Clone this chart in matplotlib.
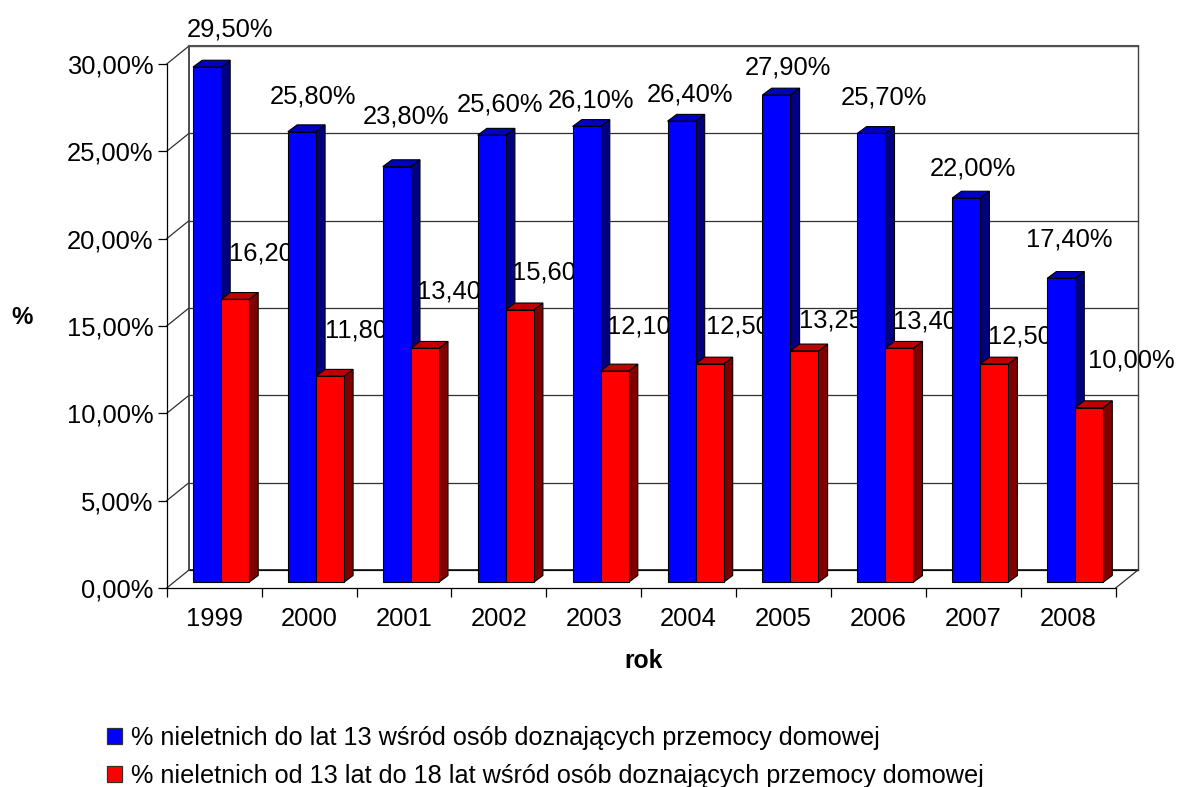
"""3D-looking clustered columns, 1999-2008, drawn on a flat axes with fake depth."""
import matplotlib
matplotlib.use("Agg")
import matplotlib.pyplot as plt
from matplotlib.patches import Patch

plt.rcParams["font.family"] = ["Liberation Sans", "DejaVu Sans"]

YEARS = ["1999", "2000", "2001", "2002", "2003", "2004", "2005", "2006", "2007", "2008"]
UNDER_13 = [29.5, 25.8, 23.8, 25.6, 26.1, 26.4, 27.9, 25.7, 22.0, 17.4]
FROM_13_TO_18 = [16.2, 11.8, 13.4, 15.6, 12.1, 12.5, 13.25, 13.4, 12.5, 10.0]
LABELS_13 = ["29,50%", "25,80%", "23,80%", "25,60%", "26,10%", "26,40%", "27,90%", "25,70%", "22,00%", "17,40%"]
LABELS_18 = ["16,20%", "11,80%", "13,40%", "15,60%", "12,10%", "12,50%", "13,25%", "13,40%", "12,50%", "10,00%"]
LEGEND = [
    "% nieletnich do lat 13 wśród osób doznających przemocy domowej",
    "% nieletnich od 13 lat do 18 lat wśród osób doznających przemocy domowej",
]

# label offsets in pixels from the bar's top left corner (they were moved by hand in the original)
OFFSET_13 = [(37, 38), (25, 35), (23, 50), (22, 31), (18, 26), (22, 27), (26, 27), (27, 36), (21, 30), (22, 39)]
OFFSET_18 = [(51, 46), (51, 46), (50, 57), (50, 37), (50, 44), (54, 37), (52, 30), (51, 27), (51, 27), (56, 47)]

W, H = 1179, 787
FONT = 18.4
PX_X = 94.9          # pixels per category
PX_Y = 524 / 30      # pixels per percent

# depth of the chart box and of the columns, in data units
DEPTH_X, DEPTH_Y = 22.3 / PX_X, 18 / PX_Y
BAR_DX, BAR_DY = 9.2 / PX_X, 6.8 / PX_Y
SHIFT_X, SHIFT_Y = 7 / PX_X, 5.7 / PX_Y
GAP = 19.3 / PX_X
BAR_W = 28 / PX_X

fig = plt.figure(figsize=(W / 100, H / 100), dpi=100, facecolor="white")
ax = fig.add_axes([166.7 / W, (H - 588) / H, 949 / W, 524 / H])
ax.set_xlim(0, 10)
ax.set_ylim(0, 30)
ax.patch.set_visible(False)
for side in ("top", "right"):
    ax.spines[side].set_visible(False)
for side in ("left", "bottom"):
    ax.spines[side].set_linewidth(0.9)

ax.set_xticks(range(11))
ax.set_xticklabels([])
ax.set_xticks([i + 0.5 for i in range(10)], YEARS, minor=True)
ax.tick_params(axis="x", which="major", length=6.5, width=0.9)
ax.tick_params(axis="x", which="minor", length=0, labelsize=FONT, pad=13.8)
ax.set_yticks(range(0, 31, 5))
ax.set_yticklabels([f"{v},00%" for v in range(0, 31, 5)])
ax.tick_params(axis="y", length=6.5, width=0.9, labelsize=FONT, pad=3.2)

# walls and floor
wall = dict(color="#303030", linewidth=0.9, clip_on=False, zorder=1)
for v in range(0, 31, 5):
    ax.plot([DEPTH_X, 10 + DEPTH_X], [v + DEPTH_Y] * 2, **wall)
    ax.plot([0, DEPTH_X], [v, v + DEPTH_Y], **wall)
ax.plot([DEPTH_X, 10 + DEPTH_X], [DEPTH_Y, DEPTH_Y], color="black", linewidth=1.1, clip_on=False, zorder=1)
ax.plot([DEPTH_X, DEPTH_X], [DEPTH_Y, 30 + DEPTH_Y], color="#404040", linewidth=1.3, clip_on=False, zorder=1)
ax.plot([10 + DEPTH_X] * 2, [DEPTH_Y, 30 + DEPTH_Y], color="#404040", linewidth=1.0, clip_on=False, zorder=1)
ax.plot([DEPTH_X, 10 + DEPTH_X], [30 + DEPTH_Y] * 2, color="#505050", linewidth=1.5, clip_on=False, zorder=1)
ax.plot([10, 10 + DEPTH_X], [0, DEPTH_Y], **wall)


def draw_column(x, value, front, top, side, z):
    y0, y1 = SHIFT_Y, SHIFT_Y + value
    edge = dict(edgecolor="black", linewidth=0.8, clip_on=False, zorder=z)
    ax.fill([x + BAR_W, x + BAR_W + BAR_DX, x + BAR_W + BAR_DX, x + BAR_W],
            [y0, y0 + BAR_DY, y1 + BAR_DY, y1], facecolor=side, **edge)
    ax.fill([x, x + BAR_DX, x + BAR_W + BAR_DX, x + BAR_W],
            [y1, y1 + BAR_DY, y1 + BAR_DY, y1], facecolor=top, **edge)
    ax.bar(x, value, BAR_W, bottom=y0, align="edge", color=front, **edge)


# back to front: each year's labels sit under the next year's columns
for i, year in enumerate(YEARS):
    z = 10 + i
    x = i + GAP + SHIFT_X
    draw_column(x, UNDER_13[i], "#0000FF", "#0000C0", "#000080", z)
    draw_column(x + BAR_W, FROM_13_TO_18[i], "#FF0000", "#C00000", "#800000", z)
    for bx, val, text, off in ((x, UNDER_13[i], LABELS_13[i], OFFSET_13[i]),
                               (x + BAR_W, FROM_13_TO_18[i], LABELS_18[i], OFFSET_18[i])):
        ax.annotate(text, (bx, val + SHIFT_Y), xytext=off, textcoords="offset pixels",
                    ha="center", va="center", fontsize=FONT, color="black",
                    annotation_clip=False, zorder=z)

fig.text(22.5 / W, 1 - 317 / H, "%", fontsize=17.3, fontweight="bold", ha="center", va="center")
fig.text(643.5 / W, 1 - 661 / H, "rok", fontsize=17.8, fontweight="bold", ha="center", va="center")

handles = [Patch(facecolor="#0000FF", edgecolor="#303030", linewidth=0.9),
           Patch(facecolor="#FF0000", edgecolor="#303030", linewidth=0.9)]
fig.legend(handles, LEGEND, loc="upper left", bbox_to_anchor=(106.7 / W, 1 - 726 / H),
           frameon=False, fontsize=18.2, handlelength=0.6, handleheight=0.63,
           handletextpad=0.36, labelspacing=0.55, borderaxespad=0, borderpad=0)

fig.savefig("out.png", dpi=100)
